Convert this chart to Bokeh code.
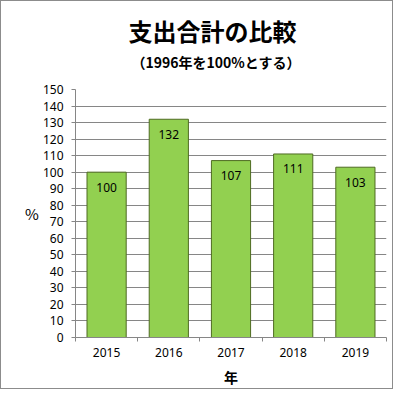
from bokeh.plotting import figure
from bokeh.models import Range1d, FixedTicker, Title, ColumnDataSource
from bokeh.core.properties import value
from bokeh.embed import file_html
from bokeh.resources import INLINE

years = ["2015", "2016", "2017", "2018", "2019"]
values = [100, 132, 107, 111, 103]
y_ticks = list(range(0, 151, 10))
title_text = "支出合計の比較"
subtitle_text = "（1996年を100%とする）"
x_label = "年"
y_label = "%"

JP = "Noto Sans CJK JP"
NUM = "Noto Sans"

xs = [i + 0.5 for i in range(len(years))]
src = ColumnDataSource(dict(x=xs, top=values, label=[str(v) for v in values]))

p = figure(width=393, height=389, output_backend="svg", toolbar_location=None,
           x_range=Range1d(0, len(years)), y_range=Range1d(0, 150),
           min_border_left=74, min_border_right=8, min_border_top=88, min_border_bottom=53)
p.outline_line_color = None
p.styles = {"border": "1px solid #8c8c8c", "box-sizing": "border-box"}

p.vbar(x="x", top="top", bottom=0, width=0.63, source=src,
       fill_color="#92D050", line_color="#4F6B22", line_width=1)
p.text(x="x", y="top", text="label", source=src, y_offset=15,
       text_align="center", text_baseline="middle",
       text_font=value(NUM), text_font_size="12px", text_color="#000000")

p.xgrid.grid_line_color = None
p.ygrid.ticker = FixedTicker(ticks=y_ticks[1:])
p.ygrid.grid_line_color = "#868686"

p.yaxis.ticker = FixedTicker(ticks=y_ticks)
p.yaxis.axis_line_color = "#868686"
p.yaxis.major_tick_line_color = "#868686"
p.yaxis.major_tick_out = 4
p.yaxis.major_tick_in = 0
p.yaxis.minor_tick_line_color = None
p.yaxis.major_label_standoff = 8
p.yaxis.major_label_text_font = NUM
p.yaxis.major_label_text_font_size = "12px"
p.yaxis.major_label_text_color = "#000000"
p.yaxis.axis_label = y_label
p.yaxis.axis_label_orientation = "horizontal"
p.yaxis.axis_label_text_font = JP
p.yaxis.axis_label_text_font_style = "normal"
p.yaxis.axis_label_text_font_size = "15px"
p.yaxis.axis_label_text_color = "#000000"
p.yaxis.axis_label_standoff = 1

p.xaxis.ticker = FixedTicker(ticks=xs, minor_ticks=list(range(len(years) + 1)))
p.xaxis.major_label_overrides = {x: y for x, y in zip(xs, years)}
p.xaxis.axis_line_color = "#868686"
p.xaxis.major_tick_out = 0
p.xaxis.major_tick_in = 0
p.xaxis.minor_tick_out = 4
p.xaxis.minor_tick_in = 0
p.xaxis.minor_tick_line_color = "#868686"
p.xaxis.major_label_standoff = 6
p.xaxis.major_label_text_font = NUM
p.xaxis.major_label_text_font_size = "12px"
p.xaxis.major_label_text_color = "#000000"
p.xaxis.axis_label = x_label
p.xaxis.axis_label_text_font = JP
p.xaxis.axis_label_text_font_style = "bold"
p.xaxis.axis_label_text_font_size = "14px"
p.xaxis.axis_label_text_color = "#000000"
p.xaxis.axis_label_standoff = 7

p.add_layout(Title(text=subtitle_text, align="left", offset=56, standoff=35,
                   text_font=JP, text_font_style="bold", text_font_size="14px",
                   text_color="#000000"), "above")
p.add_layout(Title(text=title_text, align="left", offset=53, standoff=-30,
                   text_font=JP, text_font_style="bold", text_font_size="24px",
                   text_color="#000000"), "above")

open("out.html", "w").write(file_html(p, INLINE))
